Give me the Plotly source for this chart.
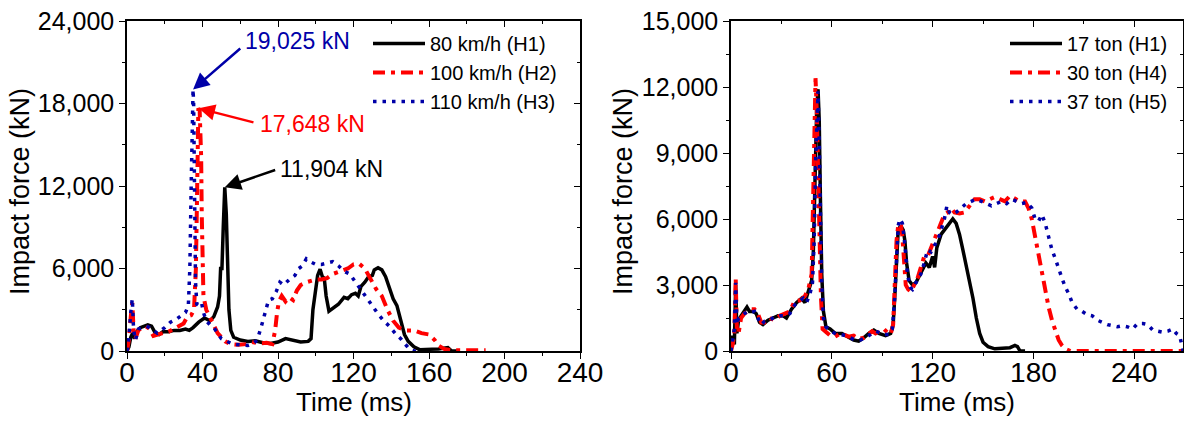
import plotly.graph_objects as go

# ---------------- Left panel: impact speed ----------------
t_80kmh = [0, 1, 2, 3, 4, 5, 7, 9, 11, 13, 15, 17, 19, 22, 25, 28, 31, 33, 35, 38, 41, 44, 46, 48, 49,
           49.6, 50.3, 51, 51.8, 52.6, 53.3, 54, 55, 56.5, 60, 64, 68, 72, 76, 80, 84, 88, 92, 96, 97.5,
           98.5, 100, 101, 102.3, 103.5, 104.5, 105.5, 107, 109, 112, 115, 117, 119, 121, 122.5, 124, 126,
           128, 130, 131, 133, 135, 137, 139, 141, 143, 145, 147, 149, 152, 155, 160, 165, 170, 172, 175]
f_80kmh = [0, 300, 1000, 1300, 900, 1400, 1700, 1800, 1900, 1800, 1300, 1200, 1400, 1400, 1500, 1500, 1600,
           1500, 1700, 2100, 2400, 2200, 2500, 3200, 4000,
           6000, 6000, 9000, 11904, 10000, 6000, 3000, 1500, 1000, 800, 700, 750, 600, 550, 650, 900, 800,
           650, 700, 900,
           3000, 4800, 5500, 5950, 5400, 5300, 4000, 2900, 3100, 3400, 3900, 3800, 4100, 4200, 4000, 4700,
           5000, 5400, 5500, 5900, 6050, 5900, 5400, 4500, 3800, 3300, 2300, 1200, 700, 300, 100, 100, 150,
           250, 0, 0]

t_100kmh = [0, 1, 2, 2.8, 3.5, 4.5, 6, 8, 10, 12, 14, 16, 19, 22, 25, 28, 30, 32, 34, 35.5, 36.5, 37.2,
            37.8, 38.5, 39, 39.3, 39.6, 40, 40.5, 42, 44, 46, 48, 50, 52, 55, 59, 63, 66, 70, 74, 77, 78.5,
            79.5, 80.5, 82, 84, 86, 88, 90, 92, 95, 98, 100, 103, 106, 109, 113, 117, 120, 123, 126, 129,
            132, 135, 138, 141, 144, 148, 152, 156, 160, 163, 165, 168, 172, 180, 190]
f_100kmh = [0, 800, 2500, 3500, 1500, 900, 1500, 1700, 1800, 1600, 1100, 1200, 1300, 1400, 1600, 1800,
            2000, 2500, 2600, 3000, 6000, 12000,
            17648, 17500, 16000, 14000, 10000, 6000, 4000, 3000, 2400, 1800, 1300, 1000, 700, 500, 450,
            500, 650, 550, 600, 500, 1500,
            2800, 3600, 4000, 3600, 3900, 3700, 4400, 4800, 5000, 5100, 5200, 5200, 5300, 5600, 5800, 6000,
            6300, 6350, 6000, 5200,
            4500, 4000, 3000, 2200, 1700, 1500, 1500, 1300, 1200, 800, 400, 150, 50, 50, 50]

t_110kmh = [0, 1, 2, 2.8, 3.5, 4.5, 6, 8, 10, 12, 14, 16, 18, 20, 23, 26, 29, 31, 32.5, 33.3, 34, 34.6,
            35, 35.3, 35.6, 35.9, 36.3, 37, 38, 39.5, 40.5, 42, 44, 46, 48, 50, 53, 56, 60, 64, 67, 69, 71,
            73, 75, 77, 79, 81, 83, 86, 89, 91, 93, 95, 97, 100, 103, 106, 109, 112, 115, 118, 121, 124,
            127, 130, 133, 136, 139, 142, 145, 148, 150, 152, 155]
f_110kmh = [0, 1000, 2800, 3800, 1500, 800, 1600, 1700, 1800, 1700, 1500, 1300, 1500, 1700, 2100, 2300,
            2600, 2800, 3300, 6000, 12000, 17000,
            19025, 18000, 15000, 10000, 5000, 3400, 3300, 3500, 2800, 2200, 1900, 1700, 1300, 900, 700,
            500, 450, 400, 550, 800, 1700,
            2800, 3700, 3800, 4300, 5000, 4800, 5200, 5500, 6000, 6200, 6700, 6500, 6300, 6300, 6400, 6500,
            6200, 5800, 5600, 5000, 4500,
            3900, 3300, 2700, 2200, 1800, 1300, 900, 400, 100, 0, 0]

# ---------------- Right panel: truck mass ----------------
t_17ton = [0, 1, 2, 2.8, 3.5, 4.5, 6, 8, 9.5, 11, 13, 15, 17, 19, 22, 25, 28, 31, 33, 36, 39, 42, 44, 46,
           48, 49, 50, 51, 51.8, 52.5, 53.2, 54, 55, 56.5, 59, 62, 66, 70, 73, 76, 79, 82, 85, 88, 92, 95,
           96.5, 97.5, 98.5, 99.5, 101, 102.5, 103.5, 104.5, 106, 108, 110, 112, 114, 116, 118, 120, 121.2,
           122.5, 125, 128, 130, 132, 134, 136, 138, 140, 142, 144, 146, 148, 150, 153, 157, 162, 166, 169,
           170.5, 172, 175]
f_17ton = [0, 700, 300, 3000, 800, 1400, 1600, 1800, 2000, 1800, 1800, 1700, 1300, 1200, 1400, 1500,
           1600, 1600, 1500, 1900, 2200, 2400, 2200, 2700,
           3200, 4500, 8000, 11000, 11900, 10500, 7000, 3500, 1800, 1100, 1000, 800, 800, 650, 500, 450,
           600, 800, 950, 800, 700, 800,
           1200, 2500, 4500, 5500, 5700, 5500, 5000, 4000, 3200, 3000, 3100, 3400, 3700, 4000, 3800, 4300,
           3800,
           4700, 5300, 5600, 5800, 6000, 5800, 5300, 4600, 3900, 3200, 2400, 1500, 800, 400, 200, 100, 120,
           150, 250,
           200, 0, 0]

t_30ton = [0, 1, 2, 2.8, 3.5, 4.5, 6, 8, 10, 12, 14, 16, 18, 20, 23, 26, 29, 32, 35, 38, 41, 44, 46, 48,
           48.8, 49.5, 50.3, 51, 51.7, 52.5, 53.5, 54.5, 56, 59, 62, 65, 67, 70, 73, 76, 79, 82, 84, 86, 89,
           91, 93, 95, 96.5, 97.5, 98.5, 99.5, 101, 102, 103, 104, 105.5, 107, 109, 111, 113, 115, 117, 119,
           121, 123, 125, 127, 129, 131, 133, 136, 139, 142, 145, 148, 151, 154, 157, 160, 163, 166, 169,
           172, 175, 177, 179, 181, 183, 185, 187, 189, 191, 193, 195, 197, 199, 202, 210, 269]
f_30ton = [0, 300, 800, 3300, 1000, 800, 1500, 1700, 1800, 1900, 1900, 1700, 1300, 1300, 1500, 1400,
           1600, 1700, 1800, 2300, 2300, 2500, 2800, 3500,
           6000, 9500, 12400, 11000, 8000, 5000, 2500, 1000, 900, 700, 650, 800, 750, 650, 700, 550, 600,
           800, 900, 800, 900,
           1000, 850, 750, 1200, 3000, 5000, 5700, 5800, 5200, 4000, 3000, 2800, 2700, 3000, 3300, 3800,
           4300, 4300, 4700,
           5000, 5400, 5800, 6200, 6300, 6500, 6300, 6250, 6300, 6600, 6900, 6900, 6800, 6900, 7000, 6900,
           6800, 7050, 6900,
           6800, 6800, 6500, 6000, 5200, 4300, 3700, 2800, 2000, 1400, 900, 500, 250, 100, 0, 0, 0]

t_37ton = [0, 1, 2, 2.8, 3.5, 4.5, 6, 8, 10, 12, 14, 16, 18, 20, 23, 26, 29, 32, 35, 38, 41, 43, 45, 47,
           48.5, 49.5, 50.5, 51.3, 51.8, 52.5, 53.3, 54, 55, 56.5, 59, 62, 65, 68, 71, 74, 77, 80, 83, 86,
           88, 91, 94, 96, 97.5, 98.5, 99.5, 100.5, 102, 103.5, 105, 106.5, 108, 110, 113, 115, 117, 119,
           121, 123, 125, 127, 128.5, 130, 132, 134, 137, 140, 143, 146, 149, 152, 155, 158, 161, 164, 167,
           170, 173, 176, 179, 181, 183, 185, 187, 189, 191, 193, 195, 197, 199, 201, 203, 206, 209, 212,
           215, 218, 221, 224, 227, 230, 233, 236, 239, 242, 245, 248, 251, 254, 257, 260, 263, 265, 267,
           268.5, 269]
f_37ton = [0, 500, 1000, 3100, 1200, 1500, 1600, 1700, 1800, 1750, 1800, 1500, 1200, 1350, 1400, 1550,
           1600, 1600, 1700, 2100, 2300, 2400, 2200, 2600,
           3100, 5000, 9000, 11500, 11800, 9500, 6000, 3000, 1500, 1100, 900, 800, 750, 700, 600, 500, 500,
           600, 750, 900,
           850, 750, 750, 1000, 2500, 4500, 5700, 6000, 5800, 4800, 3500, 2900, 2800, 3100, 3500, 4000,
           4600, 4500,
           4800, 5000, 5500, 6000, 6600, 6300, 6200, 6300, 6500, 6700, 6800, 6900, 6800, 6700, 6600, 6700,
           6800, 6700, 6900,
           6800, 6700, 6750, 6500, 6000, 5900, 6200, 5800, 5200, 4600, 4200, 3700, 3300, 2900, 2600, 2200,
           1900, 1800, 1650,
           1600, 1400, 1300, 1200, 1150, 1100, 1150, 1100, 1000, 1250, 1250, 1200, 950, 900, 850, 900,
           1000, 800, 700,
           200, 0]

# Peak labels (left panel)
peak_times = [35.0, 38.0, 51.8]
peak_values = [19025, 17648, 11904]
peak_labels = ["19,025 kN", "17,648 kN", "11,904 kN"]
label_tail_t = [60.8, 67.8, 79.3]
label_tail_f = [22100, 16600, 13200]
label_text_t = [61.5, 69.4, 80.0]
label_text_f = [22550, 16500, 13250]

BLACK = "#000000"
RED = "#FF0000"
BLUE = "#0000A8"
FONT = "Liberation Sans, Arial, sans-serif"

fig = go.Figure()

styles = [dict(color=BLACK, width=3.5, dash="solid"),
          dict(color=RED, width=4, dash="12px,6px,4px,6px"),
          dict(color=BLUE, width=3.5, dash="3.5px,6px")]

for t, f, name, st in [(t_80kmh, f_80kmh, "80 km/h (H1)", styles[0]),
                       (t_100kmh, f_100kmh, "100 km/h (H2)", styles[1]),
                       (t_110kmh, f_110kmh, "110 km/h (H3)", styles[2])]:
    fig.add_trace(go.Scatter(x=t, y=f, mode="lines", name=name, line=st,
                             xaxis="x", yaxis="y", legend="legend"))

for t, f, name, st in [(t_17ton, f_17ton, "17 ton (H1)", styles[0]),
                       (t_30ton, f_30ton, "30 ton (H4)", styles[1]),
                       (t_37ton, f_37ton, "37 ton (H5)", styles[2])]:
    fig.add_trace(go.Scatter(x=t, y=f, mode="lines", name=name, line=st,
                             xaxis="x2", yaxis="y2", legend="legend2"))

# empty traces to render the inward ticks on top/right frame edges
fig.add_trace(go.Scatter(x=[], y=[], xaxis="x3", yaxis="y3", showlegend=False, hoverinfo="skip"))
fig.add_trace(go.Scatter(x=[], y=[], xaxis="x4", yaxis="y4", showlegend=False, hoverinfo="skip"))

W, H = 1184, 424
L_dom = [127 / W, 580 / W]
R_dom = [731 / W, 1183 / W]
Y_dom = [(H - 351) / H, (H - 21) / H]

XTICK = dict(family=FONT, size=28, color="black")
YTICK = dict(family=FONT, size=25, color="black")


def main_x(rng, dtick, mdtick, dom, anchor):
    return dict(domain=dom, range=rng, anchor=anchor, tickmode="linear", tick0=0, dtick=dtick,
                ticks="outside", ticklen=6, tickwidth=1.3, tickcolor="black", ticklabelstandoff=-10,
                minor=dict(ticks="outside", dtick=mdtick, tick0=0, ticklen=3, tickwidth=1.3, tickcolor="black"),
                showline=True, linecolor="black", linewidth=1.5, showgrid=False, zeroline=False,
                tickfont=XTICK, fixedrange=True, automargin=False)


def main_y(rng, dtick, mdtick, anchor):
    return dict(domain=Y_dom, range=rng, anchor=anchor, tickmode="linear", tick0=0, dtick=dtick,
                tickformat=",d", ticks="outside", ticklen=6, tickwidth=1.3, tickcolor="black",
                minor=dict(ticks="outside", dtick=mdtick, tick0=0, ticklen=3, tickwidth=1.3, tickcolor="black"),
                showline=True, linecolor="black", linewidth=1.5, showgrid=False, zeroline=False,
                tickfont=YTICK, fixedrange=True, automargin=False)


def over_x(rng, dtick, mdtick, over, anchor):
    return dict(overlaying=over, side="top", anchor=anchor, range=rng, tickmode="linear", tick0=0,
                dtick=dtick, ticks="inside", ticklen=6, tickwidth=1.3, tickcolor="black",
                minor=dict(ticks="inside", dtick=mdtick, tick0=0, ticklen=3, tickwidth=1.3, tickcolor="black"),
                showticklabels=False, showline=True, linecolor="black", linewidth=1.5,
                showgrid=False, zeroline=False, fixedrange=True, automargin=False)


def over_y(rng, dtick, mdtick, over, anchor):
    return dict(overlaying=over, side="right", anchor=anchor, range=rng, tickmode="linear", tick0=0,
                dtick=dtick, ticks="inside", ticklen=6, tickwidth=1.3, tickcolor="black",
                minor=dict(ticks="inside", dtick=mdtick, tick0=0, ticklen=3, tickwidth=1.3, tickcolor="black"),
                showticklabels=False, showline=True, linecolor="black", linewidth=1.5,
                showgrid=False, zeroline=False, fixedrange=True, automargin=False)


fig.update_layout(
    width=W, height=H, margin=dict(l=0, r=0, t=0, b=0, pad=0, autoexpand=False),
    paper_bgcolor="white", plot_bgcolor="white",
    font=dict(family=FONT, color="black"),
    xaxis=main_x([0, 240], 40, 20, L_dom, "y"),
    yaxis=main_y([0, 24000], 6000, 3000, "x"),
    xaxis2=main_x([0, 269], 60, 30, R_dom, "y2"),
    yaxis2=main_y([0, 15000], 3000, 1500, "x2"),
    xaxis3=over_x([0, 240], 40, 20, "x", "y"),
    yaxis3=over_y([0, 24000], 6000, 3000, "y", "x"),
    xaxis4=over_x([0, 269], 60, 30, "x2", "y2"),
    yaxis4=over_y([0, 15000], 3000, 1500, "y2", "x2"),
    legend=dict(x=368 / W, y=(H - 24) / H, xanchor="left", yanchor="top",
                bgcolor="rgba(0,0,0,0)", borderwidth=0, itemwidth=52,
                font=dict(family=FONT, size=20, color="black"), tracegroupgap=0),
    legend2=dict(x=1005 / W, y=(H - 24) / H, xanchor="left", yanchor="top",
                 bgcolor="rgba(0,0,0,0)", borderwidth=0, itemwidth=52,
                 font=dict(family=FONT, size=20, color="black"), tracegroupgap=0),
    showlegend=True,
)

annos = []
# axis titles
for xc in [(L_dom[0] + L_dom[1]) / 2, (R_dom[0] + R_dom[1]) / 2]:
    annos.append(dict(text="Time (ms)", xref="paper", yref="paper", x=xc, y=(H - 402) / H,
                      xanchor="center", yanchor="middle", showarrow=False,
                      font=dict(family=FONT, size=26, color="black")))
for xp in [20 / W, 623 / W]:
    annos.append(dict(text="Impact force (kN)", xref="paper", yref="paper", x=xp, y=(H - 192) / H,
                      xanchor="center", yanchor="middle", textangle=-90, showarrow=False,
                      font=dict(family=FONT, size=27, color="black")))

# peak call-outs
for pt, pv, lab, tt, tf, xt, yt, col in zip(peak_times, peak_values, peak_labels, label_tail_t,
                                          label_tail_f, label_text_t, label_text_f, [BLUE, RED, BLACK]):
    annos.append(dict(x=pt, y=pv, xref="x", yref="y", ax=tt, ay=tf, axref="x", ayref="y",
                      text="", showarrow=True, arrowhead=2, arrowsize=1.3, arrowwidth=2.5,
                      arrowcolor=col))
    annos.append(dict(x=xt, y=yt, xref="x", yref="y", text=lab, showarrow=False,
                      xanchor="left", yanchor="middle",
                      font=dict(family=FONT, size=23, color=col)))

fig.update_layout(annotations=annos)

fig.write_html("out.html")
